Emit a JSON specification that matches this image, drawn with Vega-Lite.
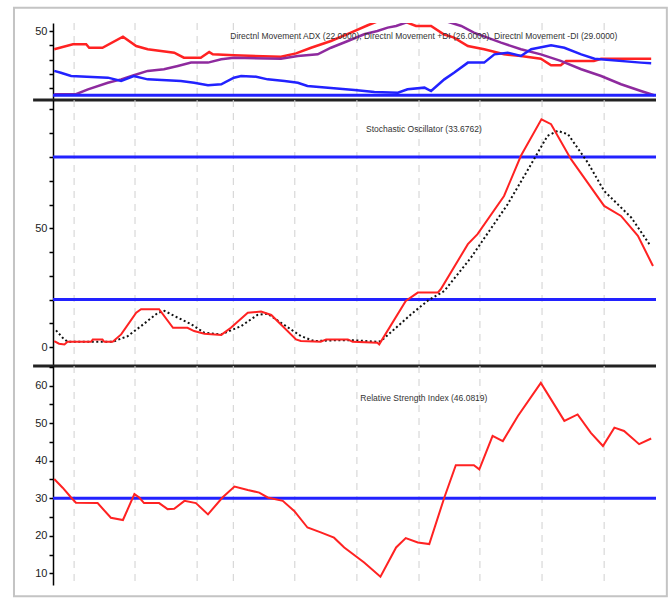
{
  "$schema": "https://vega.github.io/schema/vega-lite/v6.json",
  "autosize": {"type": "pad"},
  "padding": {"left": 12, "top": 6, "right": 0, "bottom": 0},
  "background": "white",
  "spacing": 0,
  "bounds": "flush",
  "config": {
    "view": {"stroke": null},
    "axisY": {"domainColor": "#000", "domainWidth": 1.5, "tickColor": "#000", "tickSize": 4, "tickWidth": 1.5, "labelFont": "Liberation Sans", "labelFontSize": 11, "labelColor": "#222", "labelPadding": 2, "labelOverlap": false, "labelFlush": false, "grid": false}
  },
  "datasets": {
    "one": [{}],
    "grid": [{"t": 3.5}, {"t": 13.6}, {"t": 23.9}, {"t": 29.9}, {"t": 40.1}, {"t": 50.4}, {"t": 60.7}, {"t": 70.8}, {"t": 81.1}, {"t": 91.4}],
    "dmi": [
      {"s": "-DI", "t": 0.2, "v": 37.3}, {"s": "-DI", "t": 3.3, "v": 40.9}, {"s": "-DI", "t": 5.5, "v": 40.9}, {"s": "-DI", "t": 6.0, "v": 38.4}, {"s": "-DI", "t": 8.2, "v": 38.4}, {"s": "-DI", "t": 11.6, "v": 46.3}, {"s": "-DI", "t": 13.8, "v": 39.6}, {"s": "-DI", "t": 15.7, "v": 37.3}, {"s": "-DI", "t": 20.1, "v": 34.9}, {"s": "-DI", "t": 21.7, "v": 31.3}, {"s": "-DI", "t": 24.5, "v": 31.3}, {"s": "-DI", "t": 25.9, "v": 35.4}, {"s": "-DI", "t": 26.5, "v": 33.7}, {"s": "-DI", "t": 30.0, "v": 33.0}, {"s": "-DI", "t": 37.8, "v": 32.0}, {"s": "-DI", "t": 40.3, "v": 34.4}, {"s": "-DI", "t": 42.8, "v": 38.4}, {"s": "-DI", "t": 46.1, "v": 43.2}, {"s": "-DI", "t": 49.4, "v": 49.1}, {"s": "-DI", "t": 52.2, "v": 54.4}, {"s": "-DI", "t": 55.2, "v": 59.5}, {"s": "-DI", "t": 57.7, "v": 58.0}, {"s": "-DI", "t": 60.2, "v": 53.9}, {"s": "-DI", "t": 62.7, "v": 53.9}, {"s": "-DI", "t": 64.8, "v": 48.0}, {"s": "-DI", "t": 66.5, "v": 45.6}, {"s": "-DI", "t": 68.8, "v": 39.6}, {"s": "-DI", "t": 71.5, "v": 37.3}, {"s": "-DI", "t": 74.8, "v": 33.7}, {"s": "-DI", "t": 77.6, "v": 32.5}, {"s": "-DI", "t": 80.9, "v": 30.6}, {"s": "-DI", "t": 82.6, "v": 25.9}, {"s": "-DI", "t": 84.2, "v": 25.9}, {"s": "-DI", "t": 85.1, "v": 29.0}, {"s": "-DI", "t": 89.7, "v": 29.0}, {"s": "-DI", "t": 90.9, "v": 30.6}, {"s": "-DI", "t": 99.2, "v": 30.6},
      {"s": "ADX", "t": 0.2, "v": 5.3}, {"s": "ADX", "t": 3.8, "v": 5.3}, {"s": "ADX", "t": 5.8, "v": 8.8}, {"s": "ADX", "t": 9.1, "v": 13.5}, {"s": "ADX", "t": 11.3, "v": 15.9}, {"s": "ADX", "t": 13.4, "v": 18.8}, {"s": "ADX", "t": 15.7, "v": 21.9}, {"s": "ADX", "t": 18.4, "v": 23.1}, {"s": "ADX", "t": 20.7, "v": 25.4}, {"s": "ADX", "t": 22.9, "v": 27.8}, {"s": "ADX", "t": 25.7, "v": 27.8}, {"s": "ADX", "t": 27.9, "v": 30.2}, {"s": "ADX", "t": 30.0, "v": 31.3}, {"s": "ADX", "t": 37.8, "v": 30.6}, {"s": "ADX", "t": 40.6, "v": 32.5}, {"s": "ADX", "t": 43.9, "v": 33.7}, {"s": "ADX", "t": 46.1, "v": 38.4}, {"s": "ADX", "t": 48.9, "v": 43.2}, {"s": "ADX", "t": 51.6, "v": 48.0}, {"s": "ADX", "t": 53.8, "v": 50.3}, {"s": "ADX", "t": 55.5, "v": 52.7}, {"s": "ADX", "t": 56.9, "v": 53.9}, {"s": "ADX", "t": 59.0, "v": 57.0}, {"s": "ADX", "t": 65.0, "v": 57.5}, {"s": "ADX", "t": 67.7, "v": 53.9}, {"s": "ADX", "t": 69.8, "v": 49.1}, {"s": "ADX", "t": 74.3, "v": 42.0}, {"s": "ADX", "t": 77.6, "v": 37.3}, {"s": "ADX", "t": 80.9, "v": 33.7}, {"s": "ADX", "t": 84.2, "v": 29.0}, {"s": "ADX", "t": 87.6, "v": 23.1}, {"s": "ADX", "t": 90.9, "v": 18.3}, {"s": "ADX", "t": 94.2, "v": 12.4}, {"s": "ADX", "t": 97.5, "v": 7.6}, {"s": "ADX", "t": 99.7, "v": 4.6},
      {"s": "+DI", "t": 0.2, "v": 21.9}, {"s": "+DI", "t": 1.3, "v": 20.6}, {"s": "+DI", "t": 3.0, "v": 18.3}, {"s": "+DI", "t": 9.1, "v": 17.1}, {"s": "+DI", "t": 11.3, "v": 14.7}, {"s": "+DI", "t": 13.4, "v": 18.3}, {"s": "+DI", "t": 15.7, "v": 15.9}, {"s": "+DI", "t": 21.2, "v": 14.7}, {"s": "+DI", "t": 23.4, "v": 13.5}, {"s": "+DI", "t": 25.7, "v": 11.7}, {"s": "+DI", "t": 27.9, "v": 12.4}, {"s": "+DI", "t": 30.0, "v": 17.1}, {"s": "+DI", "t": 31.2, "v": 18.3}, {"s": "+DI", "t": 33.7, "v": 17.8}, {"s": "+DI", "t": 35.6, "v": 15.9}, {"s": "+DI", "t": 38.4, "v": 14.7}, {"s": "+DI", "t": 40.6, "v": 13.5}, {"s": "+DI", "t": 42.2, "v": 11.2}, {"s": "+DI", "t": 45.6, "v": 10.0}, {"s": "+DI", "t": 50.0, "v": 8.3}, {"s": "+DI", "t": 53.3, "v": 6.9}, {"s": "+DI", "t": 57.2, "v": 6.4}, {"s": "+DI", "t": 58.8, "v": 8.8}, {"s": "+DI", "t": 61.6, "v": 10.0}, {"s": "+DI", "t": 62.7, "v": 7.6}, {"s": "+DI", "t": 64.9, "v": 15.9}, {"s": "+DI", "t": 66.5, "v": 20.6}, {"s": "+DI", "t": 68.8, "v": 27.8}, {"s": "+DI", "t": 71.5, "v": 27.8}, {"s": "+DI", "t": 73.2, "v": 33.7}, {"s": "+DI", "t": 75.4, "v": 34.9}, {"s": "+DI", "t": 77.6, "v": 32.5}, {"s": "+DI", "t": 79.3, "v": 37.3}, {"s": "+DI", "t": 82.6, "v": 40.1}, {"s": "+DI", "t": 84.8, "v": 38.4}, {"s": "+DI", "t": 87.6, "v": 33.7}, {"s": "+DI", "t": 89.8, "v": 30.6}, {"s": "+DI", "t": 97.5, "v": 27.8}, {"s": "+DI", "t": 99.2, "v": 27.3}
    ],
    "stoch": [
      {"s": "K", "t": 0.2, "v": 2.5}, {"s": "K", "t": 1.0, "v": 1.4}, {"s": "K", "t": 1.9, "v": 1.1}, {"s": "K", "t": 2.4, "v": 2.2}, {"s": "K", "t": 6.3, "v": 2.2}, {"s": "K", "t": 6.6, "v": 3.2}, {"s": "K", "t": 8.2, "v": 3.2}, {"s": "K", "t": 8.5, "v": 2.2}, {"s": "K", "t": 9.9, "v": 2.2}, {"s": "K", "t": 11.3, "v": 5.3}, {"s": "K", "t": 13.8, "v": 14.4}, {"s": "K", "t": 14.6, "v": 15.9}, {"s": "K", "t": 17.6, "v": 15.9}, {"s": "K", "t": 19.9, "v": 8.1}, {"s": "K", "t": 22.3, "v": 8.1}, {"s": "K", "t": 23.4, "v": 6.7}, {"s": "K", "t": 25.1, "v": 5.6}, {"s": "K", "t": 27.9, "v": 5.1}, {"s": "K", "t": 29.5, "v": 8.1}, {"s": "K", "t": 32.3, "v": 14.4}, {"s": "K", "t": 34.5, "v": 14.9}, {"s": "K", "t": 36.2, "v": 13.5}, {"s": "K", "t": 40.3, "v": 3.2}, {"s": "K", "t": 41.1, "v": 2.5}, {"s": "K", "t": 44.4, "v": 2.2}, {"s": "K", "t": 45.3, "v": 3.2}, {"s": "K", "t": 48.9, "v": 3.2}, {"s": "K", "t": 49.7, "v": 2.2}, {"s": "K", "t": 53.8, "v": 1.8}, {"s": "K", "t": 54.1, "v": 1.1}, {"s": "K", "t": 58.5, "v": 19.4}, {"s": "K", "t": 60.5, "v": 22.9}, {"s": "K", "t": 63.8, "v": 22.9}, {"s": "K", "t": 64.3, "v": 24.3}, {"s": "K", "t": 68.8, "v": 43.3}, {"s": "K", "t": 70.4, "v": 47.5}, {"s": "K", "t": 74.8, "v": 63.6}, {"s": "K", "t": 77.6, "v": 80.5}, {"s": "K", "t": 81.0, "v": 95.9}, {"s": "K", "t": 82.6, "v": 93.8}, {"s": "K", "t": 85.9, "v": 79.1}, {"s": "K", "t": 91.4, "v": 59.4}, {"s": "K", "t": 94.2, "v": 55.2}, {"s": "K", "t": 97.0, "v": 46.8}, {"s": "K", "t": 99.5, "v": 34.1},
      {"s": "D", "t": 0.5, "v": 7.0}, {"s": "D", "t": 1.6, "v": 3.9}, {"s": "D", "t": 2.4, "v": 2.2}, {"s": "D", "t": 9.9, "v": 2.2}, {"s": "D", "t": 12.4, "v": 4.6}, {"s": "D", "t": 14.6, "v": 8.8}, {"s": "D", "t": 17.4, "v": 14.4}, {"s": "D", "t": 18.5, "v": 15.2}, {"s": "D", "t": 20.1, "v": 13.1}, {"s": "D", "t": 22.9, "v": 9.6}, {"s": "D", "t": 25.1, "v": 6.0}, {"s": "D", "t": 27.9, "v": 5.3}, {"s": "D", "t": 31.2, "v": 8.8}, {"s": "D", "t": 33.9, "v": 13.5}, {"s": "D", "t": 35.6, "v": 14.0}, {"s": "D", "t": 37.8, "v": 10.2}, {"s": "D", "t": 41.1, "v": 4.6}, {"s": "D", "t": 43.3, "v": 2.5}, {"s": "D", "t": 46.6, "v": 2.8}, {"s": "D", "t": 50.0, "v": 2.8}, {"s": "D", "t": 53.8, "v": 2.2}, {"s": "D", "t": 54.4, "v": 2.5}, {"s": "D", "t": 59.4, "v": 13.8}, {"s": "D", "t": 62.1, "v": 19.4}, {"s": "D", "t": 64.9, "v": 23.6}, {"s": "D", "t": 69.3, "v": 37.6}, {"s": "D", "t": 75.4, "v": 60.1}, {"s": "D", "t": 79.3, "v": 77.0}, {"s": "D", "t": 82.0, "v": 88.9}, {"s": "D", "t": 83.7, "v": 91.0}, {"s": "D", "t": 85.4, "v": 89.6}, {"s": "D", "t": 88.7, "v": 77.6}, {"s": "D", "t": 91.4, "v": 65.7}, {"s": "D", "t": 95.9, "v": 54.5}, {"s": "D", "t": 98.9, "v": 43.3}
    ],
    "rsi": [
      {"t": 0.2, "v": 35.1}, {"t": 1.6, "v": 32.8}, {"t": 3.0, "v": 30.2}, {"t": 3.8, "v": 28.8}, {"t": 7.4, "v": 28.7}, {"t": 9.6, "v": 24.8}, {"t": 11.6, "v": 24.2}, {"t": 13.5, "v": 31.1}, {"t": 14.3, "v": 30.2}, {"t": 15.1, "v": 28.7}, {"t": 17.6, "v": 28.7}, {"t": 19.0, "v": 27.1}, {"t": 20.1, "v": 27.2}, {"t": 21.8, "v": 29.3}, {"t": 23.7, "v": 28.7}, {"t": 25.7, "v": 25.7}, {"t": 28.1, "v": 30.2}, {"t": 30.1, "v": 33.1}, {"t": 32.3, "v": 32.2}, {"t": 34.2, "v": 31.5}, {"t": 35.6, "v": 30.2}, {"t": 38.1, "v": 29.3}, {"t": 40.0, "v": 26.6}, {"t": 42.2, "v": 22.2}, {"t": 44.4, "v": 20.9}, {"t": 46.6, "v": 19.5}, {"t": 48.3, "v": 16.9}, {"t": 51.6, "v": 12.9}, {"t": 54.3, "v": 9.1}, {"t": 56.9, "v": 16.9}, {"t": 58.5, "v": 19.4}, {"t": 60.5, "v": 18.2}, {"t": 62.4, "v": 17.8}, {"t": 64.9, "v": 30.2}, {"t": 66.8, "v": 38.8}, {"t": 69.8, "v": 38.8}, {"t": 70.7, "v": 37.7}, {"t": 72.9, "v": 46.6}, {"t": 74.6, "v": 45.2}, {"t": 77.1, "v": 51.9}, {"t": 80.9, "v": 60.7}, {"t": 84.8, "v": 50.6}, {"t": 87.0, "v": 52.3}, {"t": 89.2, "v": 47.4}, {"t": 91.2, "v": 43.9}, {"t": 93.1, "v": 48.8}, {"t": 94.7, "v": 47.9}, {"t": 97.2, "v": 44.4}, {"t": 99.2, "v": 45.9}
    ]
  },
  "vconcat": [
    {
      "width": 603,
      "height": 77,
      "layer": [
        {
          "data": {"name": "grid"},
          "mark": {"type": "rule", "color": "#d0d0d0", "strokeDash": [7, 6], "strokeWidth": 1},
          "encoding": {"x": {"field": "t", "type": "quantitative", "scale": {"domain": [0, 100]}, "axis": null}}
        },
        {
          "data": {"name": "dmi"},
          "transform": [{"filter": "datum.s == '-DI'"}],
          "mark": {"type": "line", "clip": true, "color": "#ff2222", "strokeWidth": 2.5},
          "encoding": {
            "x": {"field": "t", "type": "quantitative", "scale": {"domain": [0, 100]}, "axis": null},
            "y": {"field": "v", "type": "quantitative", "scale": {"domain": [1.2, 56], "nice": false, "zero": false}, "title": null, "axis": {"values": [10, 20, 30, 40, 50], "labelOverlap": false, "labelExpr": "datum.value == 50 ? '50' : ''"}}
          }
        },
        {
          "data": {"name": "dmi"},
          "transform": [{"filter": "datum.s == 'ADX'"}],
          "mark": {"type": "line", "clip": true, "color": "#8e2a9e", "strokeWidth": 2.5},
          "encoding": {
            "x": {"field": "t", "type": "quantitative", "axis": null},
            "y": {"field": "v", "type": "quantitative", "title": null, "axis": {"values": [10, 20, 30, 40, 50], "labelOverlap": false, "labelExpr": "datum.value == 50 ? '50' : ''"}}
          }
        },
        {
          "data": {"name": "dmi"},
          "transform": [{"filter": "datum.s == '+DI'"}],
          "mark": {"type": "line", "clip": true, "color": "#2222ff", "strokeWidth": 2.5},
          "encoding": {
            "x": {"field": "t", "type": "quantitative", "axis": null},
            "y": {"field": "v", "type": "quantitative", "title": null, "axis": {"values": [10, 20, 30, 40, 50], "labelOverlap": false, "labelExpr": "datum.value == 50 ? '50' : ''"}}
          }
        },
        {
          "data": {"name": "one"},
          "mark": {"type": "rule", "color": "#2222ff", "strokeWidth": 3},
          "encoding": {"y": {"datum": 4.6, "title": null, "axis": {"values": [10, 20, 30, 40, 50], "labelOverlap": false, "labelExpr": "datum.value == 50 ? '50' : ''"}}}
        },
        {
          "data": {"name": "one"},
          "mark": {"type": "rule", "color": "#222222", "strokeWidth": 3},
          "encoding": {"x": {"datum": -3.3, "axis": null}, "x2": {"datum": 100}, "y": {"datum": 1.2, "title": null, "axis": {"values": [10, 20, 30, 40, 50], "labelOverlap": false, "labelExpr": "datum.value == 50 ? '50' : ''"}}}
        },
        {
          "data": {"name": "one"},
          "mark": {"type": "text", "align": "center", "baseline": "middle", "font": "Liberation Sans", "fontSize": 8.5, "color": "#333333", "text": "Directnl Movement ADX (22.0000), Directnl Movement +DI (26.0000), Directnl Movement -DI (29.0000)"},
          "encoding": {"x": {"datum": 61.5, "axis": null}, "y": {"datum": 46.8, "title": null, "axis": {"values": [10, 20, 30, 40, 50], "labelOverlap": false, "labelExpr": "datum.value == 50 ? '50' : ''"}}}
        }
      ]
    },
    {
      "width": 603,
      "height": 266,
      "layer": [
        {
          "data": {"name": "one"},
          "mark": {"type": "rect", "fillOpacity": 0, "stroke": "#c4c4c4", "strokeWidth": 2},
          "encoding": {"x": {"datum": -6.47, "scale": {"domain": [0, 100]}, "axis": null}, "x2": {"datum": 101.8}, "y": {"datum": 142.8, "scale": {"domain": [-8, 104], "nice": false, "zero": false}, "title": null, "axis": {"values": [0, 10, 20, 30, 40, 50, 60, 70, 80, 90, 100], "labelOverlap": false, "labelExpr": "datum.value == 0 || datum.value == 50 ? datum.label : ''"}}, "y2": {"datum": -104.9}}
        },
        {
          "data": {"name": "grid"},
          "mark": {"type": "rule", "color": "#d0d0d0", "strokeDash": [7, 6], "strokeWidth": 1},
          "encoding": {"x": {"field": "t", "type": "quantitative", "axis": null}}
        },
        {
          "data": {"name": "one"},
          "mark": {"type": "rule", "color": "#2222ff", "strokeWidth": 3},
          "encoding": {"y": {"datum": 80, "title": null, "axis": {"values": [0, 10, 20, 30, 40, 50, 60, 70, 80, 90, 100], "labelOverlap": false, "labelExpr": "datum.value == 0 || datum.value == 50 ? datum.label : ''"}}}
        },
        {
          "data": {"name": "one"},
          "mark": {"type": "rule", "color": "#2222ff", "strokeWidth": 3},
          "encoding": {"y": {"datum": 20, "title": null, "axis": {"values": [0, 10, 20, 30, 40, 50, 60, 70, 80, 90, 100], "labelOverlap": false, "labelExpr": "datum.value == 0 || datum.value == 50 ? datum.label : ''"}}}
        },
        {
          "data": {"name": "stoch"},
          "transform": [{"filter": "datum.s == 'D'"}],
          "mark": {"type": "line", "clip": true, "color": "#111111", "strokeWidth": 2, "strokeDash": [2, 2.5]},
          "encoding": {
            "x": {"field": "t", "type": "quantitative", "axis": null},
            "y": {"field": "v", "type": "quantitative", "title": null, "axis": {"values": [0, 10, 20, 30, 40, 50, 60, 70, 80, 90, 100], "labelOverlap": false, "labelExpr": "datum.value == 0 || datum.value == 50 ? datum.label : ''"}}
          }
        },
        {
          "data": {"name": "stoch"},
          "transform": [{"filter": "datum.s == 'K'"}],
          "mark": {"type": "line", "clip": true, "color": "#ff2222", "strokeWidth": 2},
          "encoding": {
            "x": {"field": "t", "type": "quantitative", "axis": null},
            "y": {"field": "v", "type": "quantitative", "title": null, "axis": {"values": [0, 10, 20, 30, 40, 50, 60, 70, 80, 90, 100], "labelOverlap": false, "labelExpr": "datum.value == 0 || datum.value == 50 ? datum.label : ''"}}
          }
        },
        {
          "data": {"name": "one"},
          "mark": {"type": "rule", "color": "#222222", "strokeWidth": 3},
          "encoding": {"x": {"datum": -3.3, "axis": null}, "x2": {"datum": 100}, "y": {"datum": -8, "title": null, "axis": {"values": [0, 10, 20, 30, 40, 50, 60, 70, 80, 90, 100], "labelOverlap": false, "labelExpr": "datum.value == 0 || datum.value == 50 ? datum.label : ''"}}}
        },
        {
          "data": {"name": "one"},
          "mark": {"type": "text", "align": "center", "baseline": "middle", "font": "Liberation Sans", "fontSize": 8.5, "color": "#333333", "text": "Stochastic Oscillator (33.6762)"},
          "encoding": {"x": {"datum": 61.5, "axis": null}, "y": {"datum": 91.8, "title": null, "axis": {"values": [0, 10, 20, 30, 40, 50, 60, 70, 80, 90, 100], "labelOverlap": false, "labelExpr": "datum.value == 0 || datum.value == 50 ? datum.label : ''"}}}
        }
      ]
    },
    {
      "width": 603,
      "height": 219,
      "layer": [
        {
          "data": {"name": "grid"},
          "mark": {"type": "rule", "color": "#d0d0d0", "strokeDash": [7, 6], "strokeWidth": 1},
          "encoding": {"x": {"field": "t", "type": "quantitative", "scale": {"domain": [0, 100]}, "axis": null}}
        },
        {
          "data": {"name": "one"},
          "mark": {"type": "rule", "color": "#2222ff", "strokeWidth": 3},
          "encoding": {"y": {"datum": 30, "scale": {"domain": [6.9, 65.2], "nice": false, "zero": false}, "title": null, "axis": {"values": [10, 15, 20, 25, 30, 35, 40, 45, 50, 55, 60, 65], "labelOverlap": false, "labelExpr": "datum.value % 10 == 0 ? datum.label : ''"}}}
        },
        {
          "data": {"name": "rsi"},
          "mark": {"type": "line", "clip": true, "color": "#ff2222", "strokeWidth": 2},
          "encoding": {
            "x": {"field": "t", "type": "quantitative", "axis": null},
            "y": {"field": "v", "type": "quantitative", "title": null, "axis": {"values": [10, 15, 20, 25, 30, 35, 40, 45, 50, 55, 60, 65], "labelOverlap": false, "labelExpr": "datum.value % 10 == 0 ? datum.label : ''"}}
          }
        },
        {
          "data": {"name": "one"},
          "mark": {"type": "text", "align": "center", "baseline": "middle", "font": "Liberation Sans", "fontSize": 8.5, "color": "#333333", "text": "Relative Strength Index (46.0819)"},
          "encoding": {"x": {"datum": 61.5, "axis": null}, "y": {"datum": 56.7, "title": null, "axis": {"values": [10, 15, 20, 25, 30, 35, 40, 45, 50, 55, 60, 65], "labelOverlap": false, "labelExpr": "datum.value % 10 == 0 ? datum.label : ''"}}}
        }
      ]
    }
  ]
}
